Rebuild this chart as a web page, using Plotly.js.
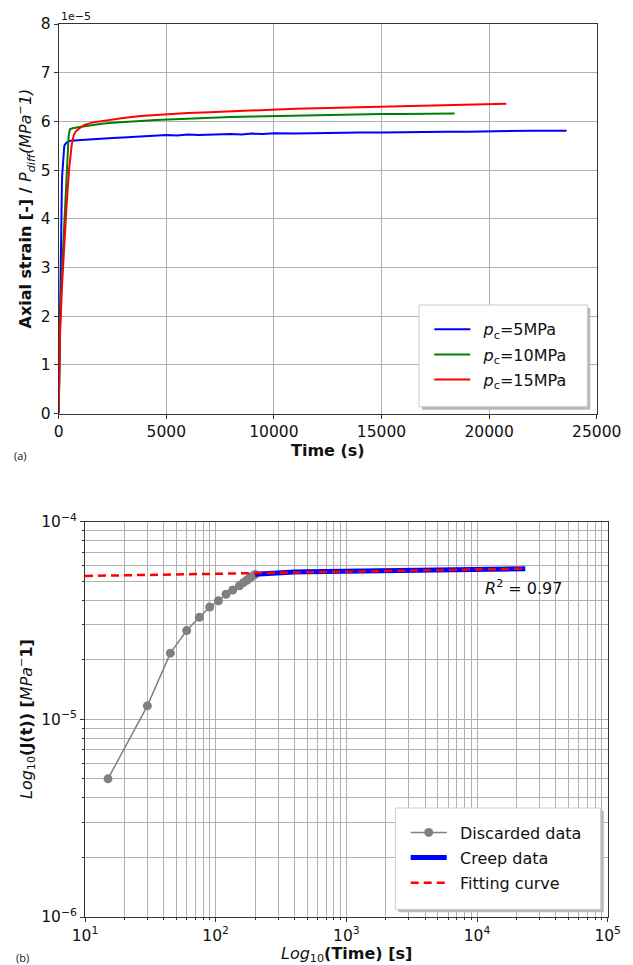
<!DOCTYPE html>
<html><head><meta charset="utf-8">
<script src="https://cdn.plot.ly/plotly-3.0.1.min.js"></script>
<style>html,body{margin:0;padding:0;background:#fff;} #chart{width:633px;height:965px;}</style>
</head><body><div id="chart"></div>
<script>
// ---------- Panel (a): axial strain / P_diff, values in units of 1e-5 ----------
const t5  = [0,15,30,45,60,75,90,105,120,135,150,165,180,195,210,260,350,500,700,1000,1500,2000,2500,3000,3500,4000,4500,5000,5500,6000,6500,7000,7500,8000,8500,9000,9500,10000,11000,12000,13000,14000,15000,16000,17000,18000,19000,20000,21000,22000,23600];
const s5  = [0,0.50,1.17,2.16,2.81,3.28,3.70,3.98,4.29,4.51,4.74,4.91,5.05,5.17,5.30,5.50,5.56,5.60,5.61,5.62,5.64,5.65,5.66,5.67,5.68,5.69,5.70,5.72,5.71,5.73,5.72,5.73,5.74,5.74,5.73,5.75,5.74,5.755,5.75,5.76,5.76,5.77,5.77,5.78,5.78,5.79,5.79,5.80,5.80,5.81,5.81];
const t10 = [0,60,150,250,330,400,460,520,650,900,1200,1600,2000,2500,3000,3800,4500,5000,6000,7000,8000,9000,10000,11000,12000,13000,14000,15000,16000,17000,18400];
const s10 = [0,1.8,2.9,3.9,4.6,5.3,5.7,5.84,5.86,5.88,5.90,5.93,5.95,5.97,5.99,6.01,6.03,6.04,6.06,6.07,6.09,6.10,6.11,6.12,6.13,6.13,6.14,6.15,6.15,6.16,6.16];
const t15 = [0,60,150,250,370,480,600,700,800,1000,1200,1600,2000,2500,3000,3800,4500,5000,6000,7000,8000,9000,10000,11000,12000,13000,14000,15000,16000,17000,18000,19000,20000,20800];
const s15 = [0,1.6,2.6,3.5,4.3,5.0,5.5,5.72,5.80,5.87,5.93,5.98,6.01,6.04,6.07,6.11,6.13,6.15,6.17,6.19,6.21,6.23,6.24,6.26,6.27,6.28,6.29,6.30,6.31,6.32,6.33,6.34,6.35,6.36];
const legendA = ['<i>p</i><sub>c</sub>=5MPa','<i>p</i><sub>c</sub>=10MPa','<i>p</i><sub>c</sub>=15MPa'];
const xTicksA = [0,5000,10000,15000,20000,25000];
const yTicksA = [0,1,2,3,4,5,6,7,8];

// ---------- Panel (b): log-log compliance ----------
const discT = [15,30,45,60,75,90,105,120,135,152,163,173,181,188,200];
const discJ = [5.0e-6,1.17e-5,2.16e-5,2.81e-5,3.28e-5,3.70e-5,3.98e-5,4.29e-5,4.51e-5,4.74e-5,4.91e-5,5.05e-5,5.17e-5,5.26e-5,5.40e-5];
const creepT = [200,250,300,400,500,700,1000,1500,2000,3000,5000,7000,10000,15000,23400];
const creepJ = [5.41e-5,5.48e-5,5.52e-5,5.56e-5,5.58e-5,5.60e-5,5.62e-5,5.64e-5,5.65e-5,5.67e-5,5.70e-5,5.72e-5,5.74e-5,5.76e-5,5.78e-5];
const fitT = [10,30,100,300,1000,3000,10000,23400];
const fitJ = [5.31e-5,5.37e-5,5.445e-5,5.51e-5,5.58e-5,5.65e-5,5.72e-5,5.78e-5];
const legendB = ['Discarded data','Creep data','Fitting curve'];
const xTicksB = [10,100,1000,10000,100000];
const xTickTextB = ['10<sup>1</sup>','10<sup>2</sup>','10<sup>3</sup>','10<sup>4</sup>','10<sup>5</sup>'];
const yTicksB = [1e-6,1e-5,1e-4];
const yTickTextB = ['10<sup>−6</sup>','10<sup>−5</sup>','10<sup>−4</sup>'];
const r2Text = '<i>R</i><sup>2</sup> = 0.97';

const W = 633, H = 965;
const PX = v => v / W, PY = v => 1 - v / H;
const FONT = 'DejaVu Sans';
const GRID = '#b0b0b0', AX = '#333';
const PAD = '\u00a0\u2009';

function minorVals(lo, hi) {
  const out = [];
  for (let e = lo; e < hi; e++) for (let m = 2; m <= 9; m++) out.push(m * Math.pow(10, e));
  return out;
}

const traces = [
  {x:t5, y:s5, mode:'lines', name:PAD+legendA[0], legendgroup:'a1', line:{color:'#0000ff', width:2}, xaxis:'x', yaxis:'y', legend:'legend'},
  {x:t10, y:s10, mode:'lines', name:PAD+legendA[1], legendgroup:'a2', line:{color:'#008000', width:2}, xaxis:'x', yaxis:'y', legend:'legend'},
  {x:t15, y:s15, mode:'lines', name:PAD+legendA[2], legendgroup:'a3', line:{color:'#ff0000', width:2}, xaxis:'x', yaxis:'y', legend:'legend'},
  {x:discT, y:discJ, mode:'lines+markers', name:PAD+legendB[0], legendgroup:'b1', line:{color:'#808080', width:1.5}, marker:{color:'#808080', size:9}, xaxis:'x2', yaxis:'y2', legend:'legend2'},
  {x:creepT, y:creepJ, mode:'lines', name:PAD+legendB[1], legendgroup:'b2', line:{color:'#0000ff', width:5}, xaxis:'x2', yaxis:'y2', legend:'legend2'},
  {x:fitT, y:fitJ, mode:'lines', name:PAD+legendB[2], legendgroup:'b3', line:{color:'#ff0000', width:2.5, dash:'8px,5px'}, xaxis:'x2', yaxis:'y2', legend:'legend2'}
];

const common = {showline:true, linecolor:AX, linewidth:1, mirror:true, ticks:'outside', ticklen:4, tickwidth:1, tickcolor:AX,
  showgrid:true, gridcolor:GRID, gridwidth:1, zeroline:false, tickfont:{family:FONT, size:15.5, color:'#111'}};

const legendCommon = {xanchor:'left', yanchor:'top', bgcolor:'rgba(0,0,0,0)', borderwidth:0, font:{family:FONT, size:16, color:'#111'}, itemwidth:36, tracegroupgap:1.4};

const layout = {
  width:W, height:H, margin:{l:0,r:0,t:0,b:0}, paper_bgcolor:'#fff', plot_bgcolor:'#fff',
  font:{family:FONT, color:'#111'},
  xaxis:Object.assign({}, common, {domain:[PX(58.7),PX(596.7)], range:[0,25000], tickmode:'array', tickvals:xTicksA, ticktext:xTicksA.map(String), anchor:'y'}),
  yaxis:Object.assign({}, common, {domain:[PY(413.6),PY(24)], range:[0,8], tickmode:'array', tickvals:yTicksA, ticktext:yTicksA.map(String), anchor:'x'}),
  xaxis2:Object.assign({}, common, {type:'log', domain:[PX(85),PX(607.7)], range:[1,5], tickmode:'array', tickvals:xTicksB, ticktext:xTickTextB, anchor:'y2',
    minor:{tickmode:'array', tickvals:minorVals(1,5), ticks:'outside', ticklen:2, tickcolor:AX, showgrid:true, gridcolor:GRID, gridwidth:1}}),
  yaxis2:Object.assign({}, common, {type:'log', domain:[PY(917),PY(521.6)], range:[-6,-4], tickmode:'array', tickvals:yTicksB, ticktext:yTickTextB, anchor:'x2',
    minor:{tickmode:'array', tickvals:minorVals(-6,-4), ticks:'outside', ticklen:2, tickcolor:AX, showgrid:true, gridcolor:GRID, gridwidth:1}}),
  showlegend:true,
  legend:Object.assign({}, legendCommon, {x:PX(429.3), y:PY(312.3)}),
  legend2:Object.assign({}, legendCommon, {x:PX(405.7), y:PY(815.5)}),
  shapes:[
    {type:'rect', xref:'paper', yref:'paper', x0:PX(422), x1:PX(590.3), y0:PY(409.7), y1:PY(308), fillcolor:'#b8b8b8', line:{width:0}, layer:'above'},
    {type:'rect', xref:'paper', yref:'paper', x0:PX(419), x1:PX(587.3), y0:PY(406.7), y1:PY(305), fillcolor:'#ffffff', line:{color:'#cccccc', width:1}, layer:'above'},
    {type:'rect', xref:'paper', yref:'paper', x0:PX(398.4), x1:PX(603.7), y0:PY(912.3), y1:PY(811), fillcolor:'#b8b8b8', line:{width:0}, layer:'above'},
    {type:'rect', xref:'paper', yref:'paper', x0:PX(395.4), x1:PX(600.7), y0:PY(909.3), y1:PY(808), fillcolor:'#ffffff', line:{color:'#cccccc', width:1}, layer:'above'}
  ],
  annotations:[
    {text:'<b>Axial strain [-] / </b><i>P<sub>diff</sub>(MPa<sup>−</sup>1)</i>', xref:'paper', yref:'paper', x:PX(25.5), y:PY(209), textangle:-90, showarrow:false, xanchor:'center', yanchor:'middle', font:{family:FONT, size:16, color:'#111'}},
    {text:'<b>Time (s)</b>', xref:'paper', yref:'paper', x:PX(327.7), y:PY(451), showarrow:false, xanchor:'center', yanchor:'middle', font:{family:FONT, size:16, color:'#111'}},
    {text:'1e−5', xref:'paper', yref:'paper', x:PX(59), y:PY(16.7), showarrow:false, xanchor:'left', yanchor:'middle', font:{family:FONT, size:11, color:'#111'}},
    {text:'(a)', xref:'paper', yref:'paper', x:PX(20), y:PY(455), showarrow:false, xanchor:'center', yanchor:'middle', font:{family:'Open Sans', size:11, color:'#111'}},
    {text:'<i>Log</i><sub>10</sub><b>(J(t)) [</b><i>MPa</i><sup>−</sup><b>1]</b>', xref:'paper', yref:'paper', x:PX(26), y:PY(719), textangle:-90, showarrow:false, xanchor:'center', yanchor:'middle', font:{family:FONT, size:16, color:'#111'}},
    {text:'<i>Log</i><sub>10</sub><b>(Time) [s]</b>', xref:'paper', yref:'paper', x:PX(346.4), y:PY(954), showarrow:false, xanchor:'center', yanchor:'middle', font:{family:FONT, size:16, color:'#111'}},
    {text:'(b)', xref:'paper', yref:'paper', x:PX(22), y:PY(957), showarrow:false, xanchor:'center', yanchor:'middle', font:{family:'Open Sans', size:11, color:'#111'}},
    {text:r2Text, xref:'paper', yref:'paper', x:PX(483.3), y:PY(587.3), showarrow:false, xanchor:'left', yanchor:'middle', font:{family:FONT, size:16, color:'#111'}}
  ]
};

Plotly.newPlot('chart', traces, layout, {staticPlot:true, displayModeBar:false});
</script>
</body></html>
